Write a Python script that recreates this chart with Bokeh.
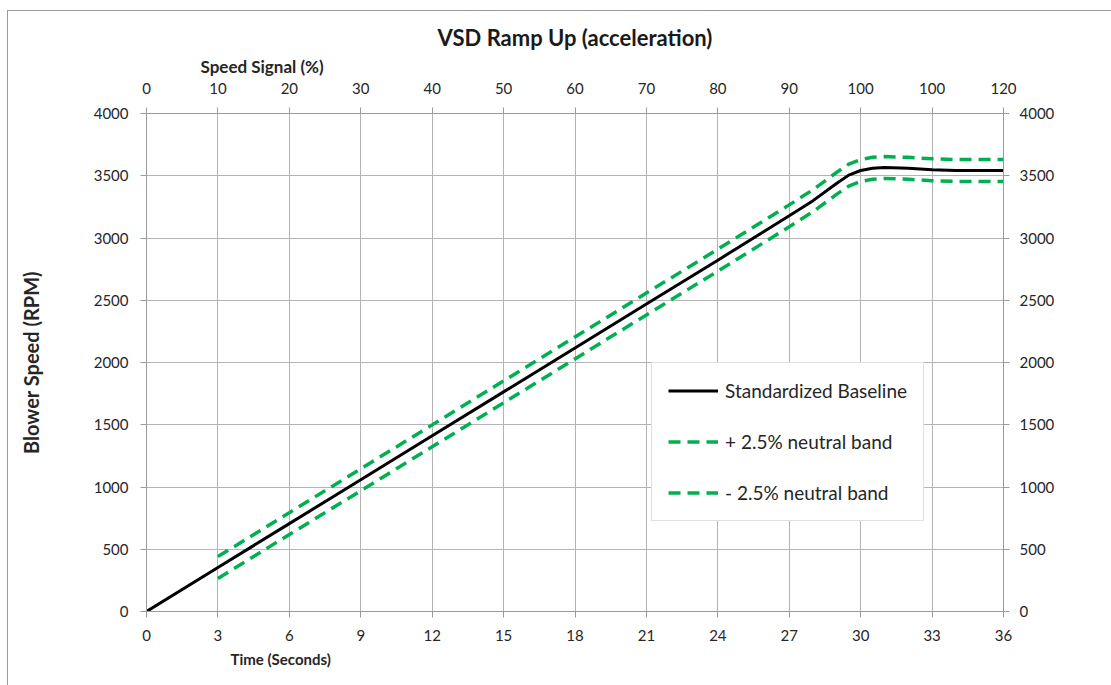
from bokeh.plotting import figure
from bokeh.models import (Range1d, LinearAxis, FixedTicker, Legend, LegendItem, Title)
from bokeh.embed import file_html
from bokeh.resources import INLINE

# ---- data ----
time_s = [0, 3, 6, 9, 12, 15, 18, 21, 24, 27, 28, 29, 29.5, 30, 30.5, 31, 32, 33, 34, 35, 36]
baseline = [0, 353, 706, 1058, 1411, 1764, 2117, 2470, 2822, 3178, 3300, 3440, 3505, 3542, 3560, 3566, 3560, 3548, 3542, 3542, 3542]

band_t = [3, 6, 9, 12, 15, 18, 21, 24, 27, 28, 29, 29.5, 30, 30.5, 31, 32, 33, 34, 35, 36]
upper_band = [441, 794, 1146, 1499, 1852, 2205, 2558, 2910, 3266, 3388, 3528, 3593, 3630, 3648, 3654, 3648, 3636, 3630, 3630, 3630]
lower_band = [265, 618, 970, 1323, 1676, 2029, 2382, 2734, 3090, 3212, 3352, 3417, 3454, 3472, 3478, 3472, 3460, 3454, 3454, 3454]

time_ticks = list(range(0, 37, 3))
rpm_ticks = list(range(0, 4001, 500))
signal_ticks = list(range(0, 121, 10))
signal_labels = ["0", "10", "20", "30", "40", "50", "60", "70", "80", "90", "100", "100", "120"]

FONT = "Lato"
GRID = "#B4B4B4"
AX = "#9A9A9A"
TXT = "#262626"
GREEN = "#00B050"

p = figure(width=1104, height=675, output_backend="svg", toolbar_location=None,
           x_range=Range1d(0, 36), y_range=Range1d(0, 4000),
           min_border_left=138, min_border_right=109, min_border_top=102, min_border_bottom=75)
p.styles = {"border-top": "1px solid #9A9A9A", "border-left": "1px solid #9A9A9A",
            "margin-left": "7px", "margin-top": "10px"}
p.outline_line_color = None
p.background_fill_color = "white"
p.border_fill_color = "white"

bottom_axis = p.below[0]
left_axis = p.left[0]

p.title.text = "VSD Ramp Up (acceleration)"
p.title.align = "center"
p.title.text_font = FONT
p.title.text_font_size = "22px"
p.title.text_font_style = "bold"
p.title.text_color = "#1a1a1a"
p.title.standoff = 0

p.extra_x_ranges = {"pct": Range1d(0, 120)}
p.extra_y_ranges = {"right": Range1d(0, 4000)}

top_axis = LinearAxis(x_range_name="pct", ticker=FixedTicker(ticks=signal_ticks),
                      major_label_overrides={t: l for t, l in zip(signal_ticks, signal_labels)})
right_axis = LinearAxis(y_range_name="right", ticker=FixedTicker(ticks=rpm_ticks))
p.add_layout(top_axis, "above")
p.add_layout(right_axis, "right")

p.add_layout(Title(text="Speed Signal (%)", align="left", offset=54, standoff=6,
                   text_font=FONT, text_font_size="17px", text_font_style="bold",
                   text_color=TXT), "above")
p.add_layout(Title(text="Time (Seconds)", align="left", offset=84, standoff=8,
                   text_font=FONT, text_font_size="15px", text_font_style="bold",
                   text_color=TXT), "below")

bottom_axis.ticker = FixedTicker(ticks=time_ticks)
left_axis.ticker = FixedTicker(ticks=rpm_ticks)

for ax in [bottom_axis, left_axis, top_axis, right_axis]:
    ax.axis_line_color = AX
    ax.major_tick_line_color = AX
    ax.major_tick_out = 6
    ax.major_tick_in = 0
    ax.minor_tick_line_color = None
    ax.major_label_text_font = FONT
    ax.major_label_text_font_size = "15px"
    ax.major_label_text_color = TXT
    ax.major_label_standoff = 6

left_axis.major_label_standoff = 12
right_axis.major_label_standoff = 10
top_axis.major_label_standoff = 14
bottom_axis.major_label_standoff = 12

left_axis.axis_label = "Blower Speed (RPM)"
left_axis.axis_label_text_font = FONT
left_axis.axis_label_text_font_size = "20px"
left_axis.axis_label_text_font_style = "bold"
left_axis.axis_label_text_color = TXT
left_axis.axis_label_standoff = 48

p.xgrid.ticker = FixedTicker(ticks=time_ticks)
p.ygrid.ticker = FixedTicker(ticks=rpm_ticks)
p.xgrid.grid_line_color = GRID
p.ygrid.grid_line_color = GRID

r_base = p.line(time_s, baseline, line_color="black", line_width=3)
r_up = p.line(band_t, upper_band, line_color=GREEN, line_width=3.5, line_dash="12 7")
r_lo = p.line(band_t, lower_band, line_color=GREEN, line_width=3.5, line_dash="12 7")

legend = Legend(items=[LegendItem(label="Standardized Baseline", renderers=[r_base]),
                       LegendItem(label="+ 2.5% neutral band", renderers=[r_up]),
                       LegendItem(label="- 2.5% neutral band", renderers=[r_lo])],
                location=(505, 90))
legend.label_text_font = FONT
legend.label_text_font_size = "19px"
legend.label_text_color = TXT
legend.glyph_width = 50
legend.glyph_height = 23
legend.label_height = 23
legend.label_standoff = 7
legend.spacing = 28
legend.padding = 16
legend.margin = 0
legend.border_line_color = "#BFBFBF"
legend.border_line_width = 1
legend.background_fill_alpha = 1
p.add_layout(legend, "center")

open("out.html", "w").write(file_html(p, INLINE))
